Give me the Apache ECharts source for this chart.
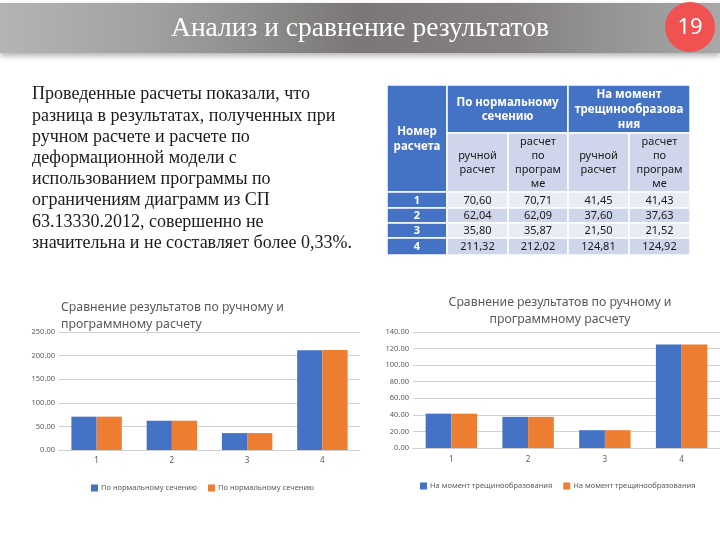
<!DOCTYPE html>
<html><head><meta charset="utf-8">
<script src="https://cdn.jsdelivr.net/npm/echarts@6/dist/echarts.min.js"></script>
<style>html,body{margin:0;padding:0;background:#fff}#c{width:720px;height:540px}</style>
</head><body><div id="c"></div>
<script>
// ---------- data ----------
const categories = ['1', '2', '3', '4'];
const normManual = [70.60, 62.04, 35.80, 211.32];
const normProgram = [70.71, 62.09, 35.87, 212.02];
const crackManual = [41.45, 37.60, 21.50, 124.81];
const crackProgram = [41.43, 37.63, 21.52, 124.92];
const leftAxisMax = 250, leftAxisStep = 50;
const rightAxisMax = 140, rightAxisStep = 20;

const slideTitle = 'Анализ и сравнение результатов';
const slideNumber = '19';
const paragraphLines = [
  'Проведенные расчеты показали, что',
  'разница в результатах, полученных при',
  'ручном расчете и расчете по',
  'деформационной модели с',
  'использованием программы по',
  'ограничениям диаграмм из СП',
  '63.13330.2012, совершенно не',
  'значительна и не составляет более 0,33%.'
];
const chartTitle = 'Сравнение результатов по ручному и\nпрограммному расчету';
const seriesNames = [
  'По нормальному сечению (ручной расчет)',
  'По нормальному сечению (расчет по программе)',
  'На момент трещинообразования (ручной расчет)',
  'На момент трещинообразования (расчет по программе)'
];
const tableNumberHeader = 'Номер\nрасчета';
const tableGroupHeaders = ['По нормальному\nсечению', 'На момент\nтрещинообразова\nния'];
const tableSubHeaders = ['ручной\nрасчет', 'расчет\nпо\nпрограм\nме', 'ручной\nрасчет', 'расчет\nпо\nпрограм\nме'];

// ---------- layout ----------
const colX = [387, 447, 508, 568, 629, 690];
const rowY = [85, 133, 192, 208, 223, 238, 255];
const BLUE = '#4472C4', ORANGE = '#ED7D31';
const DARK = '#4472C4', MID = '#CFD5EA', LIGHT = '#E9EBF5';
const SANS = '"Noto Sans", "Open Sans", sans-serif';
const SERIF = '"Liberation Serif", "DejaVu Serif", serif';

const fmtComma = v => v.toFixed(2).replace('.', ',');

const g = [];
// header bar
g.push({
  type: 'rect', shape: { x: 0, y: 3, width: 720, height: 50 },
  style: {
    fill: { type: 'linear', x: 0, y: 0, x2: 1, y2: 0, colorStops: [
      { offset: 0, color: '#b4b4b4' }, { offset: 0.2, color: '#a3a2a2' },
      { offset: 0.5, color: '#7b7777' }, { offset: 0.72, color: '#868282' },
      { offset: 1, color: '#a8a8a8' }] },
    shadowBlur: 6, shadowOffsetY: 3, shadowColor: 'rgba(0,0,0,0.3)'
  }
});
g.push({ type: 'text', x: 360, y: 29, style: { text: slideTitle, fill: '#ffffff', font: '27.5px ' + SERIF, align: 'center', verticalAlign: 'middle' } });
g.push({ type: 'circle', shape: { cx: 690, cy: 27, r: 25 }, style: { fill: '#F05252' } });
g.push({ type: 'text', x: 690, y: 28, style: { text: slideNumber, fill: '#ffffff', font: '22px ' + SANS, align: 'center', verticalAlign: 'middle' } });

// paragraph
g.push({ type: 'text', x: 32, y: 84, style: { text: paragraphLines.join('\n'), fill: '#1a1a1a', font: '18px ' + SERIF, lineHeight: 21.2, align: 'left', verticalAlign: 'top' } });

// table
function cell(x0, x1, y0, y1, fill, text, color, bold, size, lh) {
  g.push({ type: 'rect', shape: { x: x0, y: y0, width: x1 - x0, height: y1 - y0 }, style: { fill: fill, stroke: '#ffffff', lineWidth: 1.5 } });
  g.push({ type: 'text', x: (x0 + x1) / 2, y: (y0 + y1) / 2 + 0.5, style: { text: text, fill: color, font: (bold ? 'bold ' : '') + size + 'px ' + SANS, lineHeight: lh, align: 'center', verticalAlign: 'middle' } });
}
cell(colX[0], colX[1], rowY[0], rowY[2], DARK, tableNumberHeader, '#ffffff', true, 11.5, 15);
cell(colX[1], colX[3], rowY[0], rowY[1], DARK, tableGroupHeaders[0], '#ffffff', true, 11.5, 14);
cell(colX[3], colX[5], rowY[0], rowY[1], DARK, tableGroupHeaders[1], '#ffffff', true, 11.5, 15);
tableSubHeaders.forEach((t, i) => cell(colX[i + 1], colX[i + 2], rowY[1], rowY[2], MID, t, '#1a1a1a', false, 11, 14));
const tableCols = [normManual, normProgram, crackManual, crackProgram];
categories.forEach((c, r) => {
  const y0 = rowY[r + 2], y1 = rowY[r + 3];
  const bg = r % 2 === 0 ? LIGHT : MID;
  cell(colX[0], colX[1], y0, y1, DARK, c, '#ffffff', true, 11, 14);
  tableCols.forEach((arr, i) => cell(colX[i + 1], colX[i + 2], y0, y1, bg, fmtComma(arr[r]), '#1a1a1a', false, 11, 14));
});

const titleStyle = { fontSize: 12.3, fontWeight: 'normal', color: '#595959', fontFamily: SANS, lineHeight: 17 };
const axisLabelStyle = { color: '#595959', fontSize: 7.5, fontFamily: SANS };
const gridLine = { lineStyle: { color: '#d0d0d0', width: 1 } };

function yAx(gi, max, step) {
  return { type: 'value', gridIndex: gi, min: 0, max: max, interval: step,
    axisLine: { show: false }, axisTick: { show: false }, splitLine: gridLine,
    axisLabel: Object.assign({ formatter: v => v.toFixed(2), margin: 4 }, axisLabelStyle) };
}
function xAx(gi, margin) {
  return { type: 'category', gridIndex: gi, data: categories,
    axisTick: { show: false }, axisLine: { lineStyle: { color: '#d0d0d0' } },
    axisLabel: { color: '#595959', fontSize: 8, fontFamily: SANS, margin: margin } };
}
function bar(name, data, gi, color) {
  return { type: 'bar', name: name, xAxisIndex: gi, yAxisIndex: gi, data: data,
    barGap: '0%', barCategoryGap: '33%', itemStyle: { color: color } };
}
const legendBase = { icon: 'rect', itemWidth: 7, itemHeight: 7, itemGap: 11,
  textStyle: { color: '#595959', fontSize: 7.5, fontFamily: SANS, padding: [0, 0, 0, -2] },
  formatter: n => n.replace(/ \(.*\)$/, '') };

const option = {
  animation: false,
  backgroundColor: '#ffffff',
  title: [
    { text: chartTitle, left: 56, top: 294, textStyle: titleStyle },
    { text: chartTitle, left: 555, top: 289, textAlign: 'center', textStyle: Object.assign({ align: 'center' }, titleStyle) }
  ],
  grid: [
    { left: 59, top: 332, width: 301, height: 118 },
    { left: 413, top: 332, width: 307, height: 116 }
  ],
  xAxis: [xAx(0, 7), xAx(1, 8)],
  yAxis: [yAx(0, leftAxisMax, leftAxisStep), yAx(1, rightAxisMax, rightAxisStep)],
  legend: [
    Object.assign({ data: [seriesNames[0], seriesNames[1]], left: 86, top: 479 }, legendBase),
    Object.assign({ data: [seriesNames[2], seriesNames[3]], left: 415, top: 477 }, legendBase)
  ],
  series: [
    bar(seriesNames[0], normManual, 0, BLUE),
    bar(seriesNames[1], normProgram, 0, ORANGE),
    bar(seriesNames[2], crackManual, 1, BLUE),
    bar(seriesNames[3], crackProgram, 1, ORANGE)
  ],
  graphic: { elements: g }
};
const chart = echarts.init(document.getElementById('c'), null, { renderer: 'canvas' });
chart.setOption(option);
</script>
</body></html>
